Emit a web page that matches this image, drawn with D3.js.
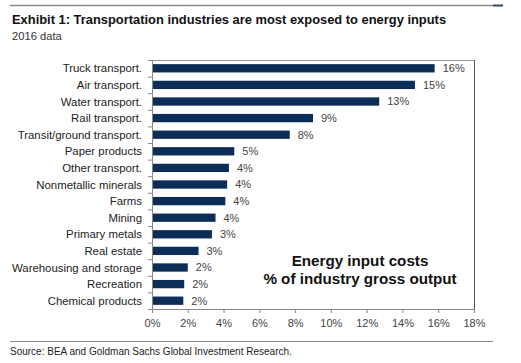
<!DOCTYPE html>
<html>
<head>
<meta charset="utf-8">
<script src="https://cdn.jsdelivr.net/npm/d3@7"></script>
<style>
	body { margin: 0; background: #fff; }
	svg { display: block; font-family: "Liberation Sans", Arial, sans-serif; }
</style>
</head>
<body>
<div class="container"></div>
<script>
// chart data
var categories = ["Truck transport.", "Air transport.", "Water transport.", "Rail transport.",
	"Transit/ground transport.", "Paper products", "Other transport.", "Nonmetallic minerals",
	"Farms", "Mining", "Primary metals", "Real estate", "Warehousing and storage",
	"Recreation", "Chemical products"];
var values = [15.8, 14.7, 12.7, 9.0, 7.7, 4.6, 4.3, 4.2, 4.1, 3.55, 3.35, 2.6, 2.0, 1.8, 1.75];
var valueLabels = ["16%", "15%", "13%", "9%", "8%", "5%", "4%", "4%", "4%", "4%", "3%", "3%", "2%", "2%", "2%"];
var xTicks = [0, 2, 4, 6, 8, 10, 12, 14, 16, 18];

var W = 521, H = 363;
// plot box (note: "top" is taken by window.top, so use other names)
var plotL = 152, plotR = 474, plotT = 60, plotB = 309;

var svg = d3.select(".container")
	.append("svg")
	.attr("width", W)
	.attr("height", H);

// header rule with the small blue end piece
svg.append("line").attr("x1", 10).attr("x2", 493).attr("y1", 5.5).attr("y2", 5.5)
	.style("stroke", "#8a8a8a").style("stroke-width", 1.5);
svg.append("line").attr("x1", 493).attr("x2", 503).attr("y1", 5.5).attr("y2", 5.5)
	.style("stroke", "#2b4a6e").style("stroke-width", 2);

svg.append("text").attr("x", 12).attr("y", 23.5)
	.style("font-size", "12.9px").style("font-weight", "bold").style("fill", "#111")
	.text("Exhibit 1: Transportation industries are most exposed to energy inputs");
svg.append("text").attr("x", 12).attr("y", 40)
	.style("font-size", "11.2px").style("fill", "#333")
	.text("2016 data");

var x = d3.scaleLinear().domain([0, 18]).range([plotL, plotR]);
var y = d3.scaleBand().domain(categories).range([plotT, plotB]).paddingInner(0.5).paddingOuter(0.25);

// frame: top and right
svg.append("line").attr("x1", plotL).attr("x2", plotR).attr("y1", plotT + 0.5).attr("y2", plotT + 0.5)
	.style("stroke", "#999").style("stroke-width", 1);
svg.append("line").attr("x1", plotR + 0.5).attr("x2", plotR + 0.5).attr("y1", plotT).attr("y2", plotB)
	.style("stroke", "#555").style("stroke-width", 1);

// bars
svg.selectAll("rect.bar")
	.data(values)
	.enter()
	.append("rect")
	.attr("class", "bar")
	.attr("x", x(0))
	.attr("y", function(d, i) { return y(categories[i]); })
	.attr("width", function(d) { return x(d) - x(0); })
	.attr("height", y.bandwidth())
	.style("fill", "#0c2d55");

svg.selectAll("text.val")
	.data(values)
	.enter()
	.append("text")
	.attr("class", "val")
	.attr("x", function(d) { return x(d) + 8; })
	.attr("y", function(d, i) { return y(categories[i]) + y.bandwidth() / 2; })
	.attr("dy", "0.36em")
	.style("font-size", "11px")
	.style("fill", "#444")
	.text(function(d, i) { return valueLabels[i]; });

// bottom axis
var xAxis = svg.append("g")
	.attr("transform", "translate(0," + plotB + ")")
	.call(d3.axisBottom(x).tickValues(xTicks).tickSize(4).tickPadding(6)
		.tickFormat(function(d) { return d + "%"; }));
xAxis.selectAll("path, line").style("stroke", "#888");
xAxis.selectAll("text").style("font-size", "11px").style("fill", "#444")
	.style("font-family", "Liberation Sans, Arial, sans-serif");

// left axis, ticks sit between categories
svg.append("line").attr("x1", plotL + 0.5).attr("x2", plotL + 0.5).attr("y1", plotT).attr("y2", plotB)
	.style("stroke", "#888");
var step = y.step();
svg.selectAll("line.ytick")
	.data(d3.range(categories.length + 1))
	.enter()
	.append("line")
	.attr("class", "ytick")
	.attr("x1", plotL - 4).attr("x2", plotL)
	.attr("y1", function(d) { return plotT + d * step + 0.5; })
	.attr("y2", function(d) { return plotT + d * step + 0.5; })
	.style("stroke", "#888");

svg.selectAll("text.cat")
	.data(categories)
	.enter()
	.append("text")
	.attr("class", "cat")
	.attr("x", 142)
	.attr("y", function(d) { return y(d) + y.bandwidth() / 2; })
	.attr("dy", "0.36em")
	.attr("text-anchor", "end")
	.style("font-size", "11.4px")
	.style("fill", "#222")
	.text(function(d) { return d; });

// in-chart note
var note = svg.append("text").attr("text-anchor", "middle")
	.style("font-size", "15.2px").style("font-weight", "bold").style("fill", "#111");
note.append("tspan").attr("x", 360).attr("y", 266).text("Energy input costs");
note.append("tspan").attr("x", 360).attr("y", 284).text("% of industry gross output");

// footer
svg.append("line").attr("x1", 10).attr("x2", 493).attr("y1", 341.5).attr("y2", 341.5)
	.style("stroke", "#8a8a8a").style("stroke-width", 1);
svg.append("text").attr("x", 10).attr("y", 355)
	.style("font-size", "10px").style("fill", "#222")
	.text("Source: BEA and Goldman Sachs Global Investment Research.");
</script>
</body>
</html>
